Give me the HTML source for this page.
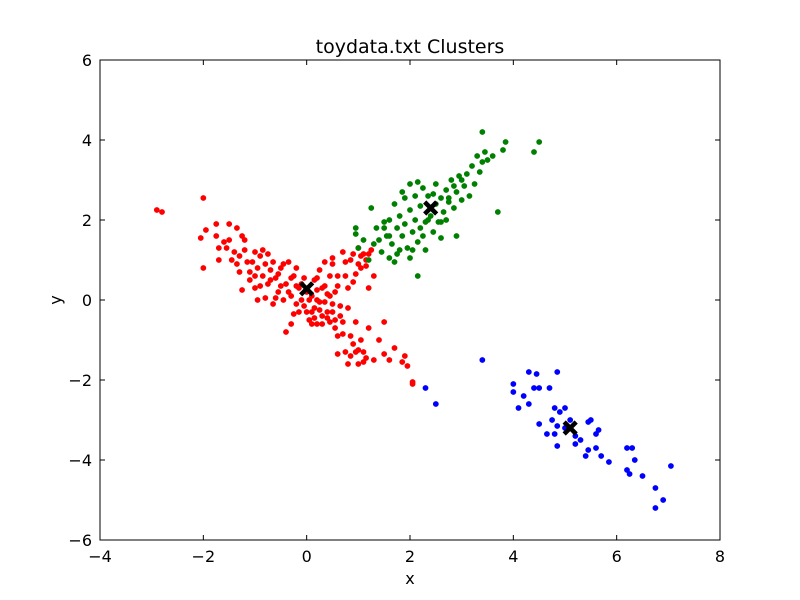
<!DOCTYPE html>
<html><head><meta charset="utf-8"><style>
body{margin:0;background:#fff}
svg{display:block;font-family:"DejaVu Sans","Liberation Sans",sans-serif}
</style></head><body>
<svg id="chart" width="800" height="600">
<rect x="0" y="0" width="800" height="600" fill="#fff"/>
<text x="410" y="53" font-size="19" text-anchor="middle">toydata.txt Clusters</text>
<text x="410" y="584" font-size="16" text-anchor="middle">x</text>
<text x="61" y="300" font-size="16" text-anchor="middle" transform="rotate(-90 61 300)">y</text>
<g id="marks"></g>
<g id="axes"></g>
</svg>
<script>
const xTicks=[-4,-2,0,2,4,6,8];
const yTicks=[-6,-4,-2,0,2,4,6];
const redPts=[[-2.9,2.25],[-2.8,2.2],[-2.0,2.55],[-2.0,0.8],[-2.05,1.55],[-1.95,1.75],[-1.75,1.9],[-1.75,1.6],[-1.7,1.3],[-1.7,1.0],[-1.5,1.9],[-1.5,1.5],[-1.4,1.2],[-1.35,1.8],[-1.3,0.7],[-1.3,1.1],[-1.25,0.25],[-1.2,1.5],[-1.15,0.95],[-1.1,0.5],[-1.0,1.2],[-1.0,0.3],[-0.95,0.8],[-0.9,1.1],[-0.85,0.6],[-0.8,0.05],[-0.8,0.9],[-0.75,0.4],[-0.7,0.75],[-0.65,-0.1],[-0.6,0.55],[-0.55,0.2],[-0.5,0.8],[-0.45,0.0],[-0.4,-0.8],[-0.4,0.4],[-0.35,0.95],[-0.3,0.1],[-0.3,-0.6],[-0.25,0.6],[-0.2,-0.1],[-0.15,0.3],[-0.1,0.0],[-0.05,0.55],[0.0,-0.3],[0.0,0.2],[0.05,-0.5],[0.1,0.1],[0.15,-0.2],[0.15,0.5],[0.2,-0.6],[0.25,-0.05],[0.3,0.3],[0.3,-0.4],[0.35,0.95],[0.4,-0.3],[0.45,0.6],[0.5,-0.1],[0.55,-0.7],[0.6,0.35],[0.65,-0.4],[0.7,1.2],[0.7,-0.85],[0.75,0.6],[0.8,-0.2],[0.85,1.0],[0.9,-1.1],[0.9,0.45],[0.95,-0.55],[1.0,1.3],[1.0,-1.6],[1.05,0.8],[1.1,-1.3],[1.15,1.0],[1.2,-0.7],[1.25,1.25],[1.3,-1.5],[1.3,0.6],[1.4,-1.0],[1.5,-0.55],[1.6,-1.5],[1.7,-1.2],[1.85,-1.55],[1.95,-1.65],[2.05,-2.05],[0.6,-1.35],[0.8,-1.6],[1.9,-1.4],[0.35,-0.05],[0.2,0.25],[-0.6,0.05],[0.1,-0.6],[0.5,0.9],[0.55,0.2],[1.1,1.15],[0.95,0.65],[1.05,-1.0],[0.45,-0.55],[-1.55,1.3],[-1.1,0.7],[-0.95,0.0],[0.2,0.55],[0.75,-1.3],[1.2,0.3],[-0.2,0.8],
[-1.6,1.45],[-1.45,1.0],[-1.35,0.9],[-1.2,1.25],[-1.05,0.95],[-1.0,0.6],[-0.9,0.35],[-0.85,1.25],[-0.7,0.5],[-0.65,0.95],[-0.55,0.65],[-0.5,0.35],[-0.45,0.9],[-0.35,0.2],[-0.3,0.55],[-0.2,0.35],[-0.15,-0.3],[-0.1,0.4],[0.05,0.0],[0.1,-0.3],[0.15,-0.45],[0.2,0.0],[0.25,-0.25],[0.3,-0.6],[0.35,0.35],[0.4,-0.45],[0.45,0.1],[0.5,-0.3],[0.55,-0.5],[0.6,0.6],[0.65,-0.15],[0.7,-0.55],[0.75,0.95],[0.8,0.3],[0.85,-0.9],[0.9,1.15],[0.95,-1.3],[1.0,0.9],[1.05,1.1],[1.1,-1.55],[1.15,0.85],[1.2,1.15],[0.85,-1.4],[1.0,-1.25],[1.15,-1.45],[-0.05,-0.15],[0.25,0.75],[0.4,0.15],[-0.25,-0.35],[0.6,-0.9],[2.05,-2.1],[1.5,-1.35],[0.5,1.05],[-1.25,1.6],[-0.75,1.15]];
const greenPts=[[0.95,1.8],[0.95,1.65],[1.2,1.0],[1.25,2.3],[1.3,1.4],[1.4,1.5],[1.45,1.2],[1.5,1.8],[1.55,1.6],[1.6,1.05],[1.6,2.0],[1.65,1.4],[1.7,2.4],[1.7,0.95],[1.75,1.8],[1.8,2.1],[1.8,1.25],[1.85,1.6],[1.9,2.55],[1.9,1.9],[1.95,1.3],[2.0,2.25],[2.0,1.05],[2.05,1.7],[2.1,2.0],[2.1,2.6],[2.15,0.6],[2.15,1.45],[2.2,2.35],[2.2,1.8],[2.25,2.8],[2.3,1.95],[2.3,1.25],[2.35,2.6],[2.4,2.1],[2.45,1.7],[2.5,2.4],[2.5,2.9],[2.55,1.95],[2.6,2.55],[2.6,1.55],[2.65,2.2],[2.7,2.75],[2.7,2.0],[2.75,2.45],[2.8,3.0],[2.85,2.3],[2.9,1.6],[2.9,2.7],[2.95,3.1],[3.0,2.5],[3.05,2.85],[3.1,3.15],[3.15,2.6],[3.2,3.35],[3.25,2.9],[3.3,3.6],[3.35,3.2],[3.4,4.2],[3.4,3.45],[3.45,3.7],[3.5,3.5],[3.7,2.2],[3.8,3.75],[3.85,3.95],[4.5,3.95],[4.4,3.7],[2.0,2.9],[2.15,2.95],[1.5,1.95],[1.35,1.8],[1.1,1.5],[1.0,1.3],[1.85,2.7],[2.35,2.0],[2.6,1.95],[2.75,2.55],[2.45,2.65],[1.6,1.6],[2.05,1.25],[3.0,3.0],[2.85,2.85],[1.75,1.15],[2.25,1.6],[3.6,3.6]];
const bluePts=[[3.4,-1.5],[2.3,-2.2],[2.5,-2.6],[4.0,-2.1],[4.0,-2.3],[4.1,-2.7],[4.2,-2.4],[4.3,-1.8],[4.3,-2.6],[4.4,-2.2],[4.45,-1.85],[4.5,-3.1],[4.5,-2.2],[4.7,-2.2],[4.75,-3.0],[4.8,-2.7],[4.8,-3.35],[4.85,-1.8],[4.85,-3.15],[4.9,-2.8],[5.0,-3.2],[5.0,-2.7],[5.1,-3.0],[5.2,-3.4],[5.2,-3.6],[5.3,-3.5],[5.4,-3.9],[5.45,-3.75],[5.5,-3.0],[5.6,-3.35],[5.6,-3.7],[5.65,-3.25],[5.7,-3.9],[5.85,-4.05],[6.2,-3.7],[6.2,-4.25],[6.25,-4.35],[6.3,-3.7],[6.35,-4.0],[6.5,-4.4],[6.75,-4.7],[6.75,-5.2],[6.9,-5.0],[7.05,-4.15],[4.85,-3.65],[4.65,-3.35],[5.45,-3.05]];
const centroids=[[0.0,0.28],[2.4,2.3],[5.1,-3.2]];
const NS="http://www.w3.org/2000/svg";
const L=100,R=720,T=60,B=540;
const sx=v=>L+(v-xTicks[0])/(xTicks[xTicks.length-1]-xTicks[0])*(R-L);
const sy=v=>B-(v-yTicks[0])/(yTicks[yTicks.length-1]-yTicks[0])*(B-T);
const marks=document.getElementById('marks');
const axes=document.getElementById('axes');
function mk(tag,attrs,parent){const e=document.createElementNS(NS,tag);for(const k in attrs)e.setAttribute(k,attrs[k]);parent.appendChild(e);return e;}
[[redPts,'#ff0000','red-point'],[greenPts,'#008000','green-point'],[bluePts,'#0000ff','blue-point']].forEach(([pts,col,nm])=>{
  pts.forEach(p=>{
    const c=mk('circle',{cx:sx(p[0]),cy:sy(p[1]),r:2.9,fill:col},marks);
    
    
  });
});
centroids.forEach(p=>{
  const x=sx(p[0]),y=sy(p[1]);
  const g=mk('path',{d:`M${x-6},${y-6}L${x+6},${y+6}M${x-6},${y+6}L${x+6},${y-6}`,stroke:'#000','stroke-width':4.5},marks);
  
  
});
const frame=mk('rect',{x:L,y:T,width:R-L,height:B-T,fill:'none',stroke:'#000','stroke-width':1},axes);


xTicks.forEach(v=>{
  const x=sx(v);
  mk('line',{x1:x,y1:B,x2:x,y2:B-5,stroke:'#000'},axes);
  mk('line',{x1:x,y1:T,x2:x,y2:T+5,stroke:'#000'},axes);
  const t=mk('text',{x:x,y:B+22,'font-size':16,'text-anchor':'middle'},axes);
  t.textContent=(v<0?'\u2212'+(-v):v);
  
  
});
yTicks.forEach(v=>{
  const y=sy(v);
  mk('line',{x1:L,y1:y,x2:L+5,y2:y,stroke:'#000'},axes);
  mk('line',{x1:R,y1:y,x2:R-5,y2:y,stroke:'#000'},axes);
  const t=mk('text',{x:L-8,y:y+6,'font-size':16,'text-anchor':'end'},axes);
  t.textContent=(v<0?'\u2212'+(-v):v);
  
  
});
</script>
</body></html>
